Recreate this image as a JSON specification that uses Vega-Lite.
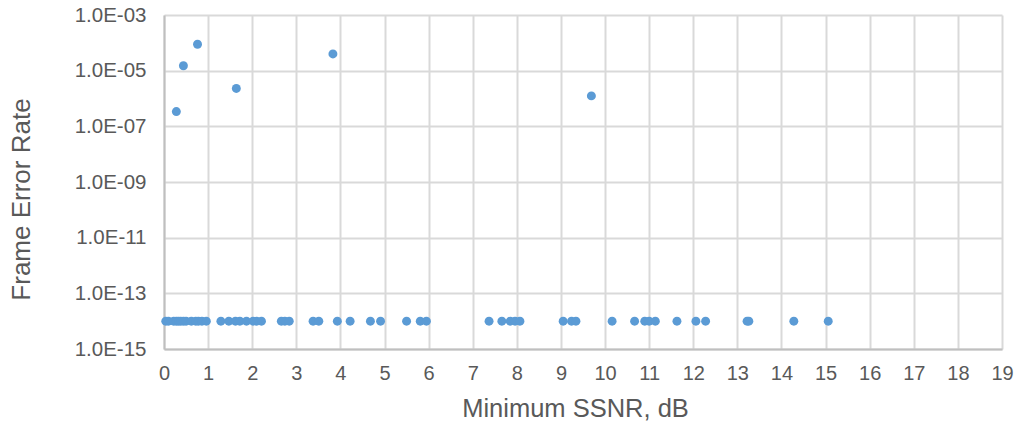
{
  "$schema": "https://vega.github.io/schema/vega-lite/v6.json",
  "autosize": "none",
  "width": 838,
  "height": 334,
  "padding": {"left": 164, "top": 15, "right": 16, "bottom": 77},
  "background": "white",
  "config": {"view": {"stroke": null}, "font": "Liberation Sans"},
  "data": {"values": [
    {"ssnr": 0.28, "fer": 3.4e-7},
    {"ssnr": 0.44, "fer": 1.5e-5},
    {"ssnr": 0.76, "fer": 8.9e-5},
    {"ssnr": 1.64, "fer": 2.3e-6},
    {"ssnr": 3.83, "fer": 4.0e-5},
    {"ssnr": 9.69, "fer": 1.24e-6},
    {"ssnr": 0.04, "fer": 1e-14},
    {"ssnr": 0.1, "fer": 1e-14},
    {"ssnr": 0.22, "fer": 1e-14},
    {"ssnr": 0.28, "fer": 1e-14},
    {"ssnr": 0.33, "fer": 1e-14},
    {"ssnr": 0.38, "fer": 1e-14},
    {"ssnr": 0.44, "fer": 1e-14},
    {"ssnr": 0.5, "fer": 1e-14},
    {"ssnr": 0.62, "fer": 1e-14},
    {"ssnr": 0.72, "fer": 1e-14},
    {"ssnr": 0.78, "fer": 1e-14},
    {"ssnr": 0.86, "fer": 1e-14},
    {"ssnr": 0.96, "fer": 1e-14},
    {"ssnr": 1.29, "fer": 1e-14},
    {"ssnr": 1.47, "fer": 1e-14},
    {"ssnr": 1.62, "fer": 1e-14},
    {"ssnr": 1.72, "fer": 1e-14},
    {"ssnr": 1.87, "fer": 1e-14},
    {"ssnr": 2.02, "fer": 1e-14},
    {"ssnr": 2.1, "fer": 1e-14},
    {"ssnr": 2.21, "fer": 1e-14},
    {"ssnr": 2.66, "fer": 1e-14},
    {"ssnr": 2.74, "fer": 1e-14},
    {"ssnr": 2.84, "fer": 1e-14},
    {"ssnr": 3.38, "fer": 1e-14},
    {"ssnr": 3.51, "fer": 1e-14},
    {"ssnr": 3.93, "fer": 1e-14},
    {"ssnr": 4.22, "fer": 1e-14},
    {"ssnr": 4.68, "fer": 1e-14},
    {"ssnr": 4.91, "fer": 1e-14},
    {"ssnr": 5.5, "fer": 1e-14},
    {"ssnr": 5.81, "fer": 1e-14},
    {"ssnr": 5.95, "fer": 1e-14},
    {"ssnr": 7.37, "fer": 1e-14},
    {"ssnr": 7.66, "fer": 1e-14},
    {"ssnr": 7.85, "fer": 1e-14},
    {"ssnr": 7.96, "fer": 1e-14},
    {"ssnr": 8.07, "fer": 1e-14},
    {"ssnr": 9.05, "fer": 1e-14},
    {"ssnr": 9.24, "fer": 1e-14},
    {"ssnr": 9.34, "fer": 1e-14},
    {"ssnr": 10.16, "fer": 1e-14},
    {"ssnr": 10.67, "fer": 1e-14},
    {"ssnr": 10.9, "fer": 1e-14},
    {"ssnr": 11.0, "fer": 1e-14},
    {"ssnr": 11.14, "fer": 1e-14},
    {"ssnr": 11.63, "fer": 1e-14},
    {"ssnr": 12.06, "fer": 1e-14},
    {"ssnr": 12.28, "fer": 1e-14},
    {"ssnr": 13.22, "fer": 1e-14},
    {"ssnr": 13.26, "fer": 1e-14},
    {"ssnr": 14.28, "fer": 1e-14},
    {"ssnr": 15.06, "fer": 1e-14}
  ]},
  "mark": {"type": "circle", "size": 80, "color": "#5B9BD5", "opacity": 1},
  "encoding": {
    "x": {
      "field": "ssnr", "type": "quantitative",
      "scale": {"domain": [0, 19], "nice": false, "zero": false},
      "axis": {
        "title": "Minimum SSNR, dB",
        "values": [0,1,2,3,4,5,6,7,8,9,10,11,12,13,14,15,16,17,18,19],
        "grid": true, "gridColor": "#D9D9D9", "gridWidth": 2,
        "domainColor": "#BFBFBF", "domainWidth": 2,
        "ticks": false, "labelPadding": 14, "labelFlush": false, "labelOverlap": false,
        "labelFont": "Liberation Sans", "labelFontSize": 20, "labelColor": "#595959",
        "titleFont": "Liberation Sans", "titleFontSize": 25.5, "titleFontWeight": "normal", "titleColor": "#595959",
        "titlePadding": 13, "titleX": 411
      }
    },
    "y": {
      "field": "fer", "type": "quantitative",
      "scale": {"type": "log", "domain": [1e-15, 1e-3], "nice": false},
      "axis": {
        "title": "Frame Error Rate",
        "values": [1e-15, 1e-13, 1e-11, 1e-9, 1e-7, 1e-5, 1e-3],
        "labelExpr": "'1.0E-' + (abs(round(log(datum.value)/LN10)) < 10 ? '0' : '') + abs(round(log(datum.value)/LN10))",
        "grid": true, "gridColor": "#D9D9D9", "gridWidth": 2,
        "domainColor": "#BFBFBF", "domainWidth": 2,
        "ticks": false, "labelPadding": 18, "labelFlush": false, "labelOverlap": false,
        "labelFont": "Liberation Sans", "labelFontSize": 20.5, "labelColor": "#595959",
        "titleFont": "Liberation Sans", "titleFontSize": 26, "titleFontWeight": "normal", "titleColor": "#595959",
        "titlePadding": 40, "titleY": 184
      }
    }
  }
}
